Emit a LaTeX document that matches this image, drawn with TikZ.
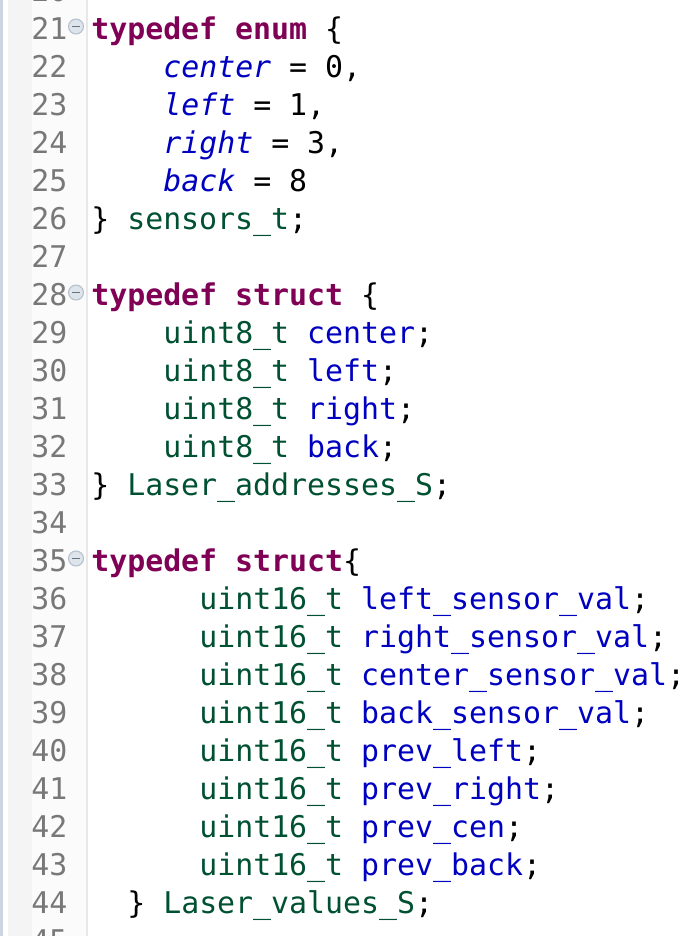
\documentclass[tikz,border=0pt]{standalone}
\usepackage{fontspec}
\usetikzlibrary{calc}
\newfontfamily\codefont{DejaVu Sans Mono}
\definecolor{kwcol}{HTML}{7F0055}
\definecolor{fieldcol}{HTML}{0000C0}
\definecolor{typecol}{HTML}{005032}
\definecolor{numcol}{HTML}{787878}
\definecolor{gutterA}{HTML}{F4F4F4}
\definecolor{gutterB}{HTML}{FBFBFB}
\definecolor{gutterline}{HTML}{E8E8E8}
\definecolor{leftbar}{HTML}{CDD5E3}
\definecolor{foldfill}{HTML}{DDE4EC}
\definecolor{foldedge}{HTML}{B4C0CC}
\definecolor{foldminus}{HTML}{68737E}
\newcommand{\kw}[1]{{\bfseries\color{kwcol}#1}}
\newcommand{\fld}[1]{\textcolor{fieldcol}{#1}}
\newcommand{\enm}[1]{{\itshape\color{fieldcol}#1}}
\newcommand{\typ}[1]{\textcolor{typecol}{#1}}

\begin{document}
\begin{tikzpicture}[x=0.75pt,y=-0.75pt,
  codetxt/.style={anchor=base west,inner sep=0pt,font=\codefont\fontsize{22.42}{28}\selectfont},
  numtxt/.style={codetxt,text=numcol}]
\def\lnA{39}
\def\lnH{38}
\useasboundingbox (0,0) rectangle (694,936);
\clip (0,0) rectangle (694,936);
\fill[white] (0,0) rectangle (694,936);
\fill[leftbar] (0.5,0) rectangle (2.5,936);
\fill[gutterA] (8,0) rectangle (32,936);
\fill[gutterB] (32,0) rectangle (86,936);
\fill[gutterline] (86,0) rectangle (87.5,936);
% line numbers
\foreach \n in {20,...,45} {
  \pgfmathsetmacro{\y}{\lnA+(\n-21)*\lnH}
  \node[numtxt] (n\n) at (31,\y) {\n};
}
% fold markers
\foreach \n in {21,28,35} {
  \pgfmathsetmacro{\y}{\lnA+(\n-21)*\lnH-12.5}
  \coordinate (f\n) at (76,\y);
  \draw[fill=foldfill,draw=foldedge,line width=0.8pt] (f\n) circle (7.5);
  \draw[foldminus,line width=1.4pt] ($(f\n)+(-4,0)$) -- ($(f\n)+(4,0)$);
}
% enum
\node[codetxt] (c21) at (91,39) {\kw{typedef} \kw{enum} \{};
\node[codetxt] (c22) at (163,77) {\enm{center} = 0,};
\node[codetxt] (c23) at (163,115) {\enm{left} = 1,};
\node[codetxt] (c24) at (163,153) {\enm{right} = 3,};
\node[codetxt] (c25) at (163,191) {\enm{back} = 8};
\node[codetxt] (c26) at (91,229) {\} \typ{sensors\_t};};
% addresses
\node[codetxt] (c28) at (91,305) {\kw{typedef} \kw{struct} \{};
\node[codetxt] (c29) at (163,343) {\typ{uint8\_t} \fld{center};};
\node[codetxt] (c30) at (163,381) {\typ{uint8\_t} \fld{left};};
\node[codetxt] (c31) at (163,419) {\typ{uint8\_t} \fld{right};};
\node[codetxt] (c32) at (163,457) {\typ{uint8\_t} \fld{back};};
\node[codetxt] (c33) at (91,495) {\} \typ{Laser\_addresses\_S};};
% values
\node[codetxt] (c35) at (91,571) {\kw{typedef} \kw{struct}\{};
\node[codetxt] (c36) at (199,609) {\typ{uint16\_t} \fld{left\_sensor\_val};};
\node[codetxt] (c37) at (199,647) {\typ{uint16\_t} \fld{right\_sensor\_val};};
\node[codetxt] (c38) at (199,685) {\typ{uint16\_t} \fld{center\_sensor\_val};};
\node[codetxt] (c39) at (199,723) {\typ{uint16\_t} \fld{back\_sensor\_val};};
\node[codetxt] (c40) at (199,761) {\typ{uint16\_t} \fld{prev\_left};};
\node[codetxt] (c41) at (199,799) {\typ{uint16\_t} \fld{prev\_right};};
\node[codetxt] (c42) at (199,837) {\typ{uint16\_t} \fld{prev\_cen};};
\node[codetxt] (c43) at (199,875) {\typ{uint16\_t} \fld{prev\_back};};
\node[codetxt] (c44) at (127,913) {\} \typ{Laser\_values\_S};};
\end{tikzpicture}
\end{document}
